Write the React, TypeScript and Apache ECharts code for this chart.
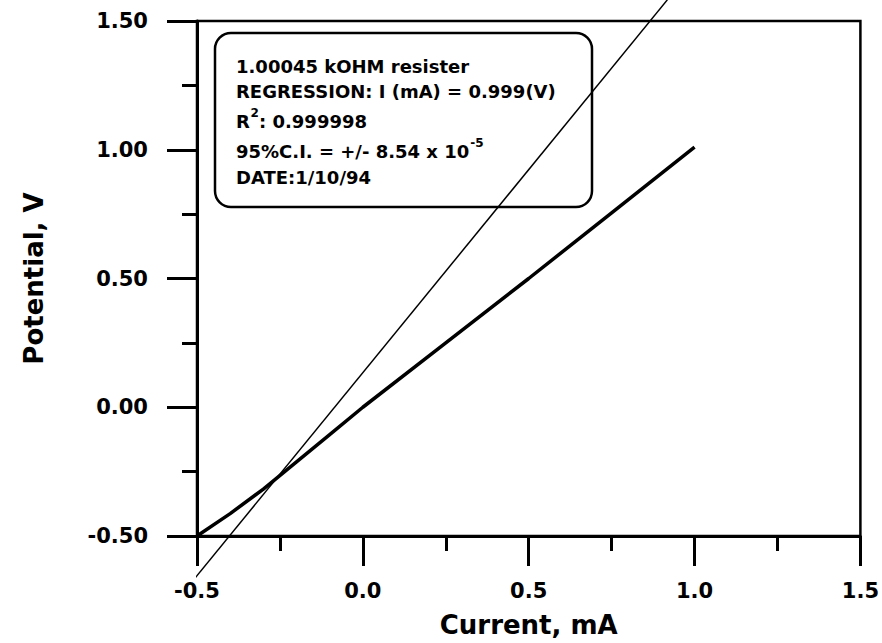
import React, { useEffect, useRef } from "react";
import * as echarts from "echarts";

// Measured I–V points (current mA, potential V)
const measuredCurrent = [-0.5, -0.4, -0.3, -0.2, -0.1, 0.0, 0.25, 0.5, 0.75, 1.0];
const measuredPotential = [-0.5, -0.413, -0.318, -0.212, -0.106, 0.0, 0.25, 0.5, 0.755, 1.01];

// Thin reference line (extends beyond the plot frame)
const refCurrent = [-0.666, 0.918];
const refPotential = [-0.916, 1.582];

const xMin = -0.5, xMax = 1.5, xStep = 0.5;
const yMin = -0.5, yMax = 1.5, yStep = 0.5;

const noteLine1 = "1.00045 kOHM resister";
const noteLine2 = "REGRESSION: I (mA) = 0.999(V)";
const noteLine3a = "R";
const noteLine3sup = "2";
const noteLine3b = ": 0.999998";
const noteLine4 = "95%C.I. = +/- 8.54 x 10";
const noteLine4sup = "-5";
const noteLine5 = "DATE:1/10/94";

const FONT = "DejaVu Sans";

export default function App() {
  const ref = useRef<HTMLDivElement>(null);
  useEffect(() => {
    document.body.style.margin = "0";
    const chart = echarts.init(ref.current!, null, { renderer: "svg" });
    const txt = (text: string, x: number, y: number, size = 18) => ({
      type: "text",
      x,
      y,
      z: 10,
      style: {
        text,
        fontSize: size,
        fontWeight: "bold",
        fontFamily: FONT,
        fill: "#000",
        verticalAlign: "middle",
        align: "left",
      },
    });
    const tx = 236;
    const w = (echarts.format as any).getTextRect
      ? (echarts.format as any).getTextRect(noteLine4, `bold 18px ${FONT}`).width
      : 234;
    chart.setOption({
      animation: false,
      backgroundColor: "#fff",
      grid: {
        left: 197,
        top: 21,
        width: 665,
        height: 515,
        show: true,
        borderColor: "#000",
        borderWidth: 2.5,
        backgroundColor: "transparent",
      },
      xAxis: {
        type: "value",
        min: xMin,
        max: xMax,
        interval: xStep,
        name: "Current, mA",
        nameLocation: "middle",
        nameGap: 76,
        nameTextStyle: { fontSize: 26, fontWeight: "bold", fontFamily: FONT, color: "#000" },
        axisLine: { show: true, onZero: false, lineStyle: { color: "#000", width: 3 } },
        axisTick: { show: true, length: 30, lineStyle: { color: "#000", width: 3 } },
        minorTick: { show: true, splitNumber: 2, length: 15, lineStyle: { color: "#000", width: 3 } },
        splitLine: { show: false },
        axisLabel: {
          margin: 44,
          fontSize: 21,
          fontWeight: "bold",
          fontFamily: FONT,
          color: "#000",
          formatter: (v: number) => v.toFixed(1),
        },
      },
      yAxis: {
        type: "value",
        min: yMin,
        max: yMax,
        interval: yStep,
        name: "Potential, V",
        nameLocation: "middle",
        nameGap: 150,
        nameTextStyle: { fontSize: 26, fontWeight: "bold", fontFamily: FONT, color: "#000" },
        axisLine: { show: true, onZero: false, lineStyle: { color: "#000", width: 3 } },
        axisTick: { show: true, length: 30, lineStyle: { color: "#000", width: 3 } },
        minorTick: { show: true, splitNumber: 2, length: 15, lineStyle: { color: "#000", width: 3 } },
        splitLine: { show: false },
        axisLabel: {
          margin: 49,
          fontSize: 21,
          fontWeight: "bold",
          fontFamily: FONT,
          color: "#000",
          formatter: (v: number) => v.toFixed(2),
        },
      },
      series: [
        {
          type: "line",
          data: refCurrent.map((x, i) => [x, refPotential[i]]),
          symbol: "none",
          clip: false,
          lineStyle: { color: "#000", width: 1.5 },
          z: 3,
        },
        {
          type: "line",
          data: measuredCurrent.map((x, i) => [x, measuredPotential[i]]),
          symbol: "none",
          clip: false,
          lineStyle: { color: "#000", width: 3.5 },
          z: 4,
        },
      ],
      graphic: [
        {
          type: "rect",
          z: 9,
          shape: { x: 215, y: 33, width: 377, height: 174, r: 16 },
          style: { fill: "rgba(0,0,0,0)", stroke: "#000", lineWidth: 2.5 },
        },
        txt(noteLine1, tx, 66),
        txt(noteLine2, tx, 91),
        txt(noteLine3a, tx, 121),
        txt(noteLine3sup, tx + 14.5, 113, 12),
        txt(noteLine3b, tx + 23, 121),
        txt(noteLine4, tx, 151),
        txt(noteLine4sup, tx + w + 1, 143, 12),
        txt(noteLine5, tx, 177),
      ],
    });
    return () => chart.dispose();
  }, []);
  return <div ref={ref} style={{ width: 882, height: 643 }} />;
}
